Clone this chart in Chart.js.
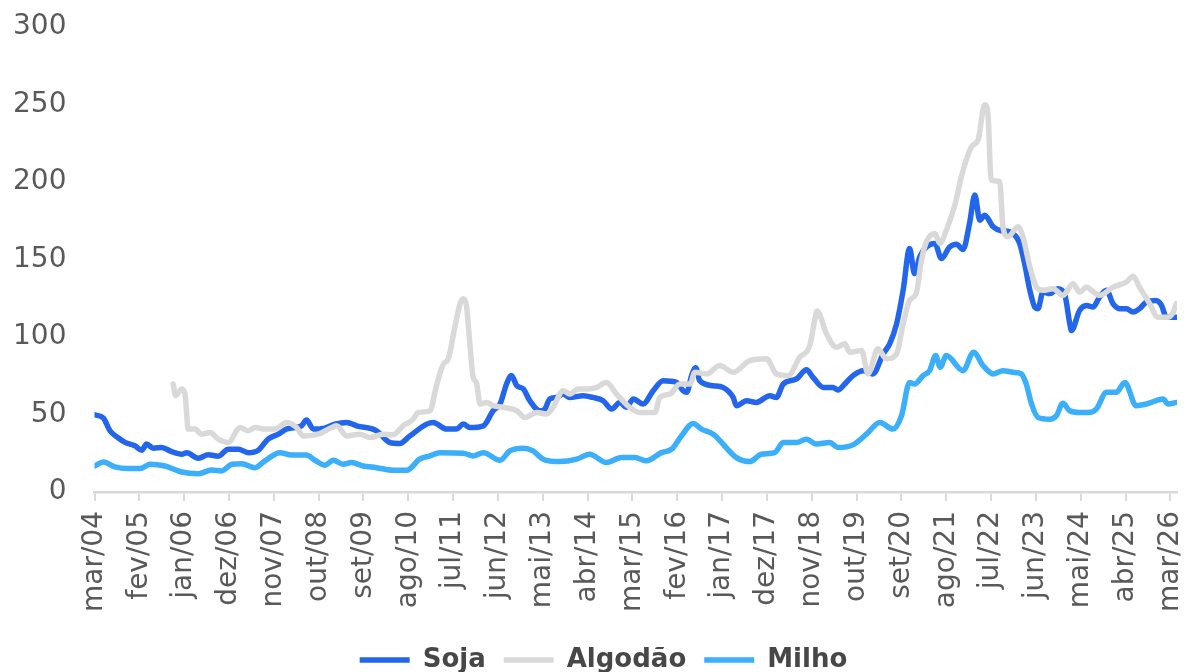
<!DOCTYPE html>
<html>
<head>
<meta charset="utf-8">
<script src="https://cdn.jsdelivr.net/npm/chart.js@4.4.1/dist/chart.umd.min.js"></script>
<style>
  html, body { margin: 0; padding: 0; background: #ffffff; overflow: hidden; }
  #wrap { position: absolute; left: 0; top: 0; width: 1185px; height: 690px; }
</style>
</head>
<body>
<div id="wrap"><canvas id="c"></canvas></div>
<script>
// x = months since mar/04
const tickLabels = ['mar/04','fev/05','jan/06','dez/06','nov/07','out/08','set/09','ago/10','jul/11','jun/12','mai/13','abr/14','mar/15','fev/16','jan/17','dez/17','nov/18','out/19','set/20','ago/21','jul/22','jun/23','mai/24','abr/25','mar/26'];
const tickStepMonths = 11;

const sojaMes = [0,2.2,3.8,5.8,7.5,9.9,11.6,12.8,14.4,16.5,18.9,21.4,22.6,25.5,27.9,30.4,32.8,35.3,37.7,40.2,42.6,45.1,47.1,49.2,50.8,52,53.7,56.5,59,61.9,64.3,69.2,72.5,74.9,77.4,81.5,83.1,86.4,88.8,90.5,92.1,95.4,97.8,99.5,101.1,102.3,103.6,105.2,106.8,109.3,110.5,111.7,113.4,115,116.6,119.9,122.3,124.8,126.9,128.9,130.5,132.2,134.6,137.1,139.5,142.8,144.4,145.3,146.5,147.5,148.5,151.8,154.2,156.7,157.5,160,162.4,165.7,167.3,169,172.2,174.7,176.3,178.8,181.2,182.4,184.1,186.1,188.6,191,193.5,195.1,196.8,198.4,200,201.2,202.5,204.1,206.2,207.8,209.8,211.5,213.1,214.7,216,217.2,218.4,220.5,222.5,224.6,227,228.2,229.5,230.7,231.5,232.7,234.4,236.4,238,239.3,239.7,241.7,243.4,245,246.6,248.3,249.9,251.5,253.2,254.8,256.4,258.1,260.5,261.8,263,264.7,265.6];
const sojaValor = [49.8,47.7,39.5,35,32,29.8,27,30.9,28.3,28.7,26.1,24.4,25.4,21.8,24,23.1,27.6,27.6,25.4,27,34.1,37.3,40.6,41.6,42.7,46.4,40.6,41.2,43.8,44.9,42.7,39.5,31.9,31.3,36.2,43.8,44.9,40.6,40.6,43.8,41.6,42.7,52.4,56.8,69.7,75.1,68.6,66.5,58.9,52.4,53.5,60,61,63.2,61,62.1,61,58.9,53.5,57.8,54.6,60,56.8,65.4,71.8,70.7,65.4,64.3,75.1,80.1,71.8,68.6,67.5,61,55.7,58.9,57.8,62.1,61,69.7,72.9,78.8,74,67.5,67.5,65.8,69.7,75.1,78.3,76.2,89.1,95.6,108.5,130.1,157.1,140.9,151.7,158.1,160.3,150.6,158.1,159.9,156.4,173.3,191.6,175.4,178.6,171.1,168.5,167.8,160.3,147.4,130.1,119.3,118.3,129,128,131.2,128,108.5,104.2,117.2,120.4,119.3,125.8,130.1,121.5,118.3,118.3,116.1,118.3,122.6,123.6,120.4,112.8,112.8,112.8];

const algodaoMes = [19.3,19.9,21.4,22.2,23,24.6,26.3,28.3,30.4,32.8,35.7,37.7,39.4,41.8,44.3,47.1,49.6,51.2,54.9,58.2,59.4,61.9,65.1,67.6,70.8,73.3,75.7,78.2,79.4,82.3,83.9,85.6,86.8,88.4,89.7,90.5,91.3,92.1,92.9,93.7,94.6,96.2,97.8,100.3,103.6,105.6,108.5,110.9,112.5,115,116.6,118.7,121.1,123.2,125.6,128.1,131.3,133.8,137.5,138.7,141.2,143.6,146.1,147.3,150.2,153.4,156.7,160.8,164.9,167.3,170.2,173,175.5,176.7,177.3,179.6,182,184.1,185.3,188.2,189.8,192.2,194.3,196.8,198.4,200,201.6,202.9,204.1,206.2,207.4,209,211.1,212.8,215.2,216.8,218.4,219.2,220,222.1,222.9,224.1,226.6,227.8,229.5,231.1,232.7,235.2,237.6,240.1,241.7,243.4,244.6,246.6,249.9,253.2,254.8,256.4,258.9,260.9,263.4,264.7,265.4];
const algodaoValor = [69.7,62.1,66.5,63.2,40.6,40.6,37.3,38.4,34.1,31.9,41.6,39.5,41.6,40.6,40.6,44.9,41.6,36.2,37.3,41.6,42.7,36.2,37.3,35.1,37.3,36.9,42.7,47,51.3,52.4,68.6,82.6,85.9,106.3,121.5,124.7,119.3,95.6,74,70.7,56.8,57.8,55.7,54.6,52.4,48.1,51.3,50.3,54.6,65.4,63.2,66.5,66.5,67.5,70.7,63.2,54.6,51.3,51.3,61,63.2,69.7,69.7,77.2,76.2,81.6,77.2,84.8,85.9,76.2,75.1,86.9,94.5,110.7,116.7,102.1,93.4,95.6,90.2,91.3,76.2,92.4,85.9,89.1,108.5,123.6,128,149.5,161.4,166.8,160.3,168.9,185.1,204.5,222.8,227.2,249.8,244.5,201.3,200.2,171.1,164.6,171.1,164.6,145.2,132.2,130.1,131.2,126.9,134.4,129,132.2,130.1,126.9,132.2,135.5,139.2,132.2,121.5,112.8,112.8,116.1,121.5];

const milhoMes = [0,2.2,5,8.3,11.2,13.6,17.3,21.4,25.5,28.7,31.2,33.7,36.1,39.4,41.8,45.5,48.4,52,54.1,56.5,58.6,61,63.1,65.9,69.2,73.3,76.6,79.8,82.3,84.7,90.5,92.9,95.4,99.5,101.9,105.2,107.6,110.1,114.2,118.3,121.5,125.6,129.3,132.6,135.4,139.1,141.6,144,146.9,148.9,151.8,157.5,160.8,163.6,166.9,169,172.2,174.7,177.1,180.4,182.4,186.1,189.4,192.7,195.9,198,200,201.2,203.3,204.9,206.4,207.5,209,213.1,215.7,218,220.5,222.9,225.4,227.4,228.6,229.9,231.5,234.4,236,237.6,239.3,241.7,243.8,245.8,248.3,250.7,252.8,255.6,258.1,262.2,263.4,265.4];
const milhoValor = [16.8,19.4,16.2,15.1,15.1,17.9,16.8,12.9,11.8,14.2,13.6,17.9,18.3,15.7,20.1,25.4,23.8,23.8,20.5,17.3,20.5,17.9,19,16.8,15.7,14,14,21.2,23.3,25.4,25,23.3,25.4,20.5,26.5,28.3,26.5,21.2,19.6,21.2,24.4,19,22.2,22.2,20.1,25.4,27.6,36.2,44.2,40.6,37.3,22.2,19.6,24.4,25.4,31.9,31.9,34.1,30.9,31.9,28.7,30.4,37.3,44.9,40.6,49.2,70.7,69.7,75.1,78.3,88,80.5,88,78.3,90.2,81.6,76.2,78.3,77.2,76.2,69.7,56.8,48.1,47,49.2,57.2,52.4,51.3,51.3,53.5,64.3,64.3,70.7,55.7,56.8,60,56.8,57.8];

const seriesNames = ['Soja', 'Algodão', 'Milho'];
const seriesColors = ['#2366EB', '#D9D9D9', '#3CAFFA'];

const pts = (xs, ys) => xs.map((x, i) => ({ x: x, y: ys[i] }));
const FONT = 'DejaVu Sans';

const mk = (i, data, order) => ({
  label: seriesNames[i],
  data: data,
  borderColor: seriesColors[i],
  backgroundColor: seriesColors[i],
  borderWidth: 5.5,
  borderCapStyle: 'round',
  borderJoinStyle: 'round',
  pointRadius: 0,
  pointHoverRadius: 0,
  cubicInterpolationMode: 'monotone',
  fill: false,
  order: order
});

// nudge the legend row slightly right, like the reference
const legendShift = {
  id: 'legendShift',
  afterLayout(chart) { if (chart.legend) { chart.legend.left += 30; } }
};

new Chart(document.getElementById('c'), {
  type: 'line',
  data: {
    datasets: [
      mk(0, pts(sojaMes, sojaValor), 3),
      mk(1, pts(algodaoMes, algodaoValor), 2),
      mk(2, pts(milhoMes, milhoValor), 1)
    ]
  },
  plugins: [legendShift],
  options: {
    responsive: true,
    maintainAspectRatio: false,
    animation: false,
    events: [],
    layout: { padding: { top: 27, right: 8, left: 0, bottom: 7 } },
    plugins: {
      tooltip: { enabled: false },
      legend: {
        position: 'bottom',
        labels: {
          usePointStyle: true,
          pointStyle: 'line',
          pointStyleWidth: 50,
          padding: 18,
          color: '#474747',
          font: { family: FONT, size: 26, weight: 'bold' },
          sort: (a, b) => a.datasetIndex - b.datasetIndex
        }
      }
    },
    scales: {
      x: {
        type: 'linear',
        min: 0,
        max: 265.6,
        offset: false,
        afterBuildTicks: (axis) => {
          axis.ticks = tickLabels.map((_, i) => ({ value: i * tickStepMonths }));
        },
        afterFit: (s) => { s.height = 137; s.paddingLeft = 0; s.paddingRight = 0; },
        ticks: {
          autoSkip: false,
          minRotation: 90,
          maxRotation: 90,
          padding: 10,
          color: '#595959',
          font: { family: FONT, size: 28 },
          callback: (v, i) => tickLabels[i]
        },
        grid: {
          display: true,
          drawOnChartArea: false,
          drawTicks: true,
          tickLength: 9,
          color: '#D9D9D9',
          lineWidth: 2
        },
        border: { display: true, color: '#D9D9D9', width: 2.5 }
      },
      y: {
        min: 0,
        max: 300,
        afterFit: (s) => { s.width = 94.5; s.paddingTop = 0; s.paddingBottom = 0; },
        ticks: {
          stepSize: 50,
          padding: 20,
          color: '#595959',
          font: { family: FONT, size: 28 }
        },
        grid: { display: false },
        border: { display: false }
      }
    }
  }
});
</script>
</body>
</html>
